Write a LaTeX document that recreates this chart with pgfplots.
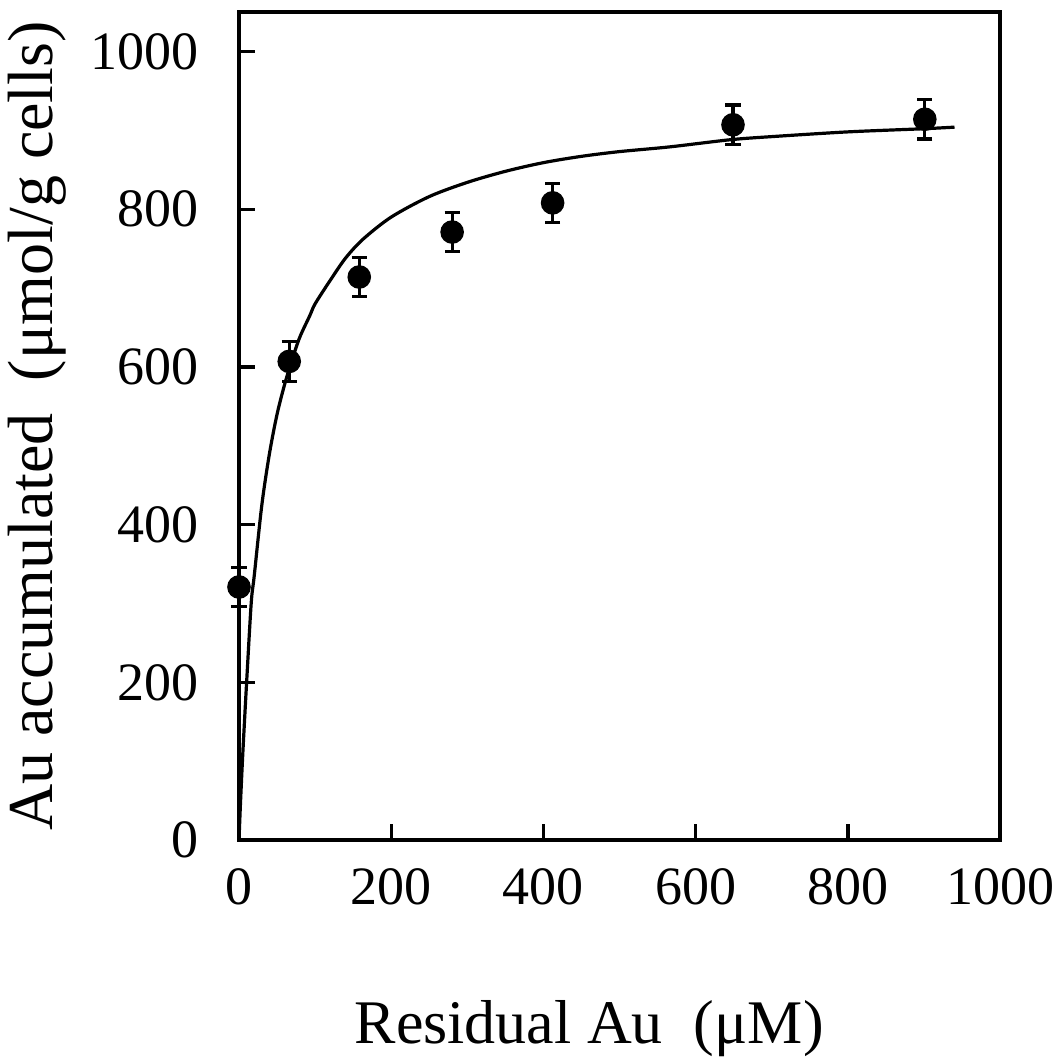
\documentclass[border=0pt]{standalone}
\usepackage{fontspec}
\setmainfont{Liberation Serif}
\usepackage{pgfplots}
\pgfplotsset{compat=1.18}

\begin{document}
\begin{tikzpicture}
  \begin{axis}[
    scale only axis,
    width=190.25pt,
    height=207pt,
    xmin=0, xmax=1000,
    ymin=0, ymax=1050,
    xtick={0,200,...,1000},
    ytick={0,200,...,1000},
    tick pos=left,
    tick align=inside,
    major tick length=4pt,
    axis line style={line width=1pt},
    tick style={line width=0.8pt, black},
    /pgf/number format/assume math mode=true,
    /pgf/number format/1000 sep={},
    ticklabel style={font=\fontsize{13.5}{16}\selectfont},
    xticklabel style={yshift=-3.5pt},
    yticklabel style={xshift=-6.5pt},
    xlabel={Residual Au\ \ (μM)},
    ylabel={Au accumulated\ \ (μmol/g cells)},
    label style={inner sep=0pt},
    xlabel style={font=\fontsize{15.5}{18}\selectfont, at={(axis description cs:0.46,-0.245)}, anchor=base},
    ylabel style={font=\fontsize{16}{18}\selectfont, at={(axis description cs:-0.245,0.5)}, anchor=base},
    clip=false,
  ]
    % fitted curve
    \addplot[black, line width=0.8pt, no marks, smooth] coordinates {
      (0,0) (2,48) (5,110) (10,200) (16,300) (20,335) (30,425) (40,490)
      (50,540) (60,578) (70,610) (80,638) (93,665) (100,680) (120,710)
      (140,738) (163,762) (200,790) (250,816) (300,834) (350,848)
      (400,859) (450,867) (500,873) (566,879) (645,888) (700,892)
      (800,898) (900,902) (940,904)
    };
    % measured data
    \addplot[black, only marks, mark=*, mark size=2.75pt,
      error bars/.cd, y dir=both, y explicit,
      error bar style={line width=0.8pt},
      error mark options={rotate=90, mark size=1.9pt, line width=0.8pt}]
      coordinates {
      (0,321) +- (0,25)
      (66,607) +- (0,25)
      (158,714) +- (0,25)
      (280,771) +- (0,25)
      (412,808) +- (0,25)
      (649,907) +- (0,25)
      (901,914) +- (0,25)
    };
    \coordinate (bl) at (axis description cs:-0.314,-0.263);
    \coordinate (tr) at (axis description cs:1.071,1.0145);
  \end{axis}
  \pgfresetboundingbox
  \path[use as bounding box] (bl) rectangle (tr);
\end{tikzpicture}
\end{document}
